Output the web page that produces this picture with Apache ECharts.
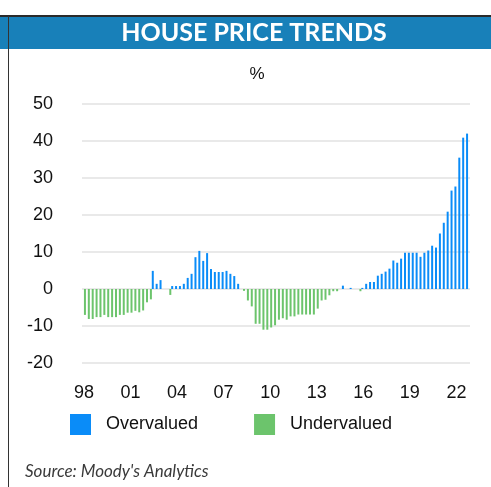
<!DOCTYPE html>
<html>
<head>
<meta charset="utf-8">
<title>House price trends</title>
<script src="https://cdn.jsdelivr.net/npm/echarts@6/dist/echarts.min.js"></script>
<style>
  html, body { margin: 0; padding: 0; background: #fff; }
  #chart { width: 491px; height: 487px; }
</style>
</head>
<body>
<div id="chart"></div>
<script>
// quarterly valuation gap, % (1998Q1 .. 2022Q4)
const valuation = [
    -7.0, -8.1, -8.1, -7.6, -7.6, -7.0, -7.6, -7.6, -7.6, -7.0,
    -7.0, -6.4, -6.4, -5.9, -6.3, -5.8, -3.6, -2.8, 4.9, 1.4,
    2.4, 0, -1.6, 0.8, 0.8, 0.8, 1.4, 3.0, 4.1, 8.6,
    10.3, 7.6, 9.7, 5.4, 4.6, 4.6, 4.6, 4.9, 4.1, 3.5,
    1.4, -0.5, -3.1, -4.7, -9.4, -9.4, -11.0, -11.0, -10.4, -9.8,
    -8.3, -7.9, -8.3, -7.4, -7.4, -6.9, -6.9, -6.9, -6.9, -6.9,
    -5.3, -3.1, -2.9, -1.7, -0.6, -0.6, 0, 0.9, 0, 0.3,
    0, -0.6, 0.3, 1.4, 1.9, 1.9, 3.6, 4.1, 4.7, 5.5,
    7.7, 7.1, 8.2, 9.8, 9.8, 9.8, 9.8, 8.7, 9.8, 10.4,
    11.7, 11.2, 15.0, 17.9, 20.9, 26.6, 27.7, 35.5, 40.9, 42.0
];
const years = [1998, 1999, 2000, 2001, 2002, 2003, 2004, 2005, 2006, 2007, 2008, 2009, 2010,
    2011, 2012, 2013, 2014, 2015, 2016, 2017, 2018, 2019, 2020, 2021, 2022];
const yearTicks = ['98', '01', '04', '07', '10', '13', '16', '19', '22'];
const seriesNames = ['Overvalued', 'Undervalued'];
const colors = ['#0a8cf8', '#6cc46c'];

let categories = [];
years.forEach(y => {
    for (let q = 1; q <= 4; q++) categories.push(y + 'Q' + q);
});

const overvalued = valuation.map(v => (v > 0 ? v : null));
const undervalued = valuation.map(v => (v < 0 ? v : null));

const chart = echarts.init(document.getElementById('chart'));

chart.setOption({
    animation: false,
    title: [
        {
            text: 'HOUSE PRICE TRENDS',
            left: 254, top: 20, textAlign: 'center', padding: 0,
            textStyle: {color: '#fff', fontSize: 25, fontWeight: 'bold', fontFamily: 'Lato'}
        },
        {
            text: '%',
            left: 257, top: 66, textAlign: 'center', padding: 0,
            textStyle: {color: '#111', fontSize: 17, fontWeight: 'normal', fontFamily: 'Liberation Sans'}
        },
        {
            text: "Source: Moody's Analytics",
            left: 25, top: 463, padding: 0,
            textStyle: {color: '#3a3a3a', fontSize: 17, fontWeight: 'normal', fontStyle: 'italic', fontFamily: 'Lato'}
        }
    ],
    graphic: [
        {type: 'rect', z: -1, shape: {x: 0, y: 17, width: 491, height: 32}, style: {fill: '#1880b9'}},
        {type: 'line', shape: {x1: 0, y1: 16, x2: 491, y2: 16}, style: {stroke: '#2a2a2a', lineWidth: 2}},
        {type: 'line', shape: {x1: 8.5, y1: 16, x2: 8.5, y2: 487}, style: {stroke: '#333', lineWidth: 1}}
    ],
    legend: {
        data: seriesNames,
        left: 70, top: 414,
        padding: 0,
        icon: 'rect',
        itemWidth: 21, itemHeight: 21,
        itemGap: 56,
        textStyle: {fontSize: 18, color: '#111', fontFamily: 'Liberation Sans', padding: [0, 0, 0, 10]}
    },
    grid: {left: 82, right: 21, top: 104, bottom: 124},
    xAxis: {
        type: 'category',
        data: categories,
        axisLine: {show: false, onZero: false},
        axisTick: {show: false},
        axisLabel: {
            interval: (i) => i % 12 === 0,
            formatter: (v, i) => yearTicks[i / 12],
            fontSize: 18, color: '#111', fontFamily: 'Liberation Sans',
            margin: 21
        }
    },
    yAxis: {
        type: 'value',
        min: -20, max: 50, interval: 10,
        axisLine: {show: false},
        axisTick: {show: false},
        axisLabel: {fontSize: 18, color: '#111', fontFamily: 'Liberation Sans', margin: 29},
        splitLine: {lineStyle: {color: '#e2e2e2', width: 1.5}}
    },
    series: [
        {
            name: seriesNames[0], type: 'bar', data: overvalued,
            barWidth: 2, barGap: '0%',
            itemStyle: {color: colors[0]}
        },
        {
            name: seriesNames[1], type: 'bar', data: undervalued,
            barWidth: 2,
            itemStyle: {color: colors[1]}
        }
    ]
});
</script>
</body>
</html>
